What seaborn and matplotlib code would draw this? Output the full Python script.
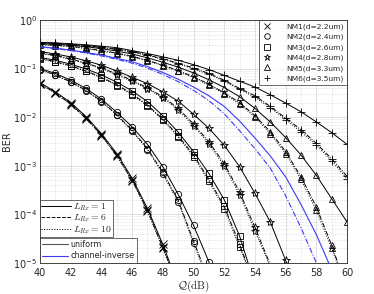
import matplotlib
matplotlib.use("Agg")
import matplotlib.pyplot as plt
import seaborn as sns
import numpy as np
from matplotlib.lines import Line2D

# BER values, stored as log10(BER) at Q = 40, 41, 42, ... dB
# each curve ends where it leaves the plot at BER = 1e-5 (the *_end value, in dB)
nm1_l1 = [-1.29, -1.48, -1.70, -1.99, -2.34, -2.75, -3.26, -3.88, -4.62]
nm1_l6 = [-1.31, -1.50, -1.73, -2.02, -2.37, -2.79, -3.30, -3.92, -4.68]
nm1_l10 = [-1.32, -1.51, -1.74, -2.03, -2.38, -2.80, -3.31, -3.94, -4.70]
nm1_end = [48.45, 48.40, 48.38]

nm2_l1 = [-1.00, -1.10, -1.24, -1.41, -1.63, -1.90, -2.20, -2.56, -3.02, -3.59, -4.23, -4.98]
nm2_l6 = [-1.02, -1.13, -1.27, -1.45, -1.67, -1.95, -2.27, -2.65, -3.14, -3.71, -4.55]
nm2_l10 = [-1.03, -1.14, -1.28, -1.46, -1.68, -1.96, -2.29, -2.67, -3.17, -3.75, -4.60]
nm2_end = [51.03, 50.55, 50.50]

nm3_l1 = [-0.77, -0.83, -0.91, -1.01, -1.13, -1.28, -1.46, -1.68, -1.97, -2.31, -2.71, -3.16, -3.70, -4.45]
nm3_l6 = [-0.79, -0.86, -0.94, -1.05, -1.18, -1.33, -1.52, -1.75, -2.04, -2.38, -2.78, -3.28, -3.84, -4.62]
nm3_l10 = [-0.80, -0.87, -0.95, -1.06, -1.19, -1.35, -1.54, -1.77, -2.06, -2.41, -2.82, -3.32, -3.89, -4.68]
nm3_end = [53.55, 53.45, 53.40]

nm4_l1 = [-0.65, -0.70, -0.76, -0.84, -0.93, -1.05, -1.18, -1.31, -1.48, -1.67, -1.94, -2.23, -2.58, -3.02,
          -3.57, -4.16, -4.95]
nm4_l6 = [-0.68, -0.73, -0.80, -0.89, -0.99, -1.11, -1.24, -1.40, -1.58, -1.82, -2.14, -2.51, -2.96, -3.54,
          -4.27]
nm4_l10 = [-0.69, -0.74, -0.81, -0.90, -1.00, -1.13, -1.26, -1.42, -1.60, -1.85, -2.18, -2.55, -3.01, -3.60,
           -4.35]
nm4_end = [56.05, 54.95, 54.90]

nm5_l1 = [-0.49, -0.50, -0.52, -0.55, -0.59, -0.64, -0.70, -0.78, -0.87, -0.97, -1.09, -1.23, -1.39, -1.58,
          -1.82, -2.10, -2.42, -2.78, -3.20, -3.68, -4.16]
nm5_l6 = [-0.50, -0.52, -0.54, -0.58, -0.63, -0.68, -0.75, -0.83, -0.93, -1.04, -1.17, -1.32, -1.50, -1.70,
          -1.97, -2.30, -2.71, -3.23, -3.85, -4.64]
nm5_l10 = [-0.51, -0.53, -0.55, -0.59, -0.64, -0.69, -0.76, -0.84, -0.94, -1.06, -1.19, -1.34, -1.52, -1.73,
           -2.00, -2.34, -2.75, -3.28, -3.92, -4.70]
nm5_end = [None, 59.40, 59.35]

nm6_l1 = [-0.46, -0.47, -0.49, -0.51, -0.54, -0.57, -0.63, -0.69, -0.76, -0.83, -0.92, -1.02, -1.14, -1.26,
          -1.38, -1.54, -1.71, -1.89, -2.10, -2.32, -2.56]
nm6_l6 = [-0.47, -0.48, -0.50, -0.53, -0.56, -0.60, -0.65, -0.72, -0.80, -0.89, -0.99, -1.10, -1.24, -1.41,
          -1.56, -1.78, -2.02, -2.26, -2.54, -2.86, -3.22]
nm6_l10 = [-0.48, -0.49, -0.51, -0.54, -0.57, -0.61, -0.66, -0.73, -0.81, -0.90, -1.01, -1.12, -1.26, -1.43,
           -1.59, -1.81, -2.05, -2.30, -2.58, -2.90, -3.27]
nm6_end = [None, None, None]

# channel-inverse (blue, no markers)
inv_l1 = [-0.55, -0.58, -0.62, -0.67, -0.72, -0.79, -0.86, -0.96, -1.08, -1.22, -1.38, -1.56, -1.78, -2.08,
          -2.43, -2.80, -3.23, -3.80, -4.42]
inv_l6 = [-0.56, -0.59, -0.63, -0.68, -0.74, -0.81, -0.89, -0.99, -1.12, -1.27, -1.45, -1.66, -1.93, -2.28,
          -2.65, -3.05, -3.62, -4.28]
inv_end = [58.80, 58.00]

nm_labels = ['NM1(d=2.2um)', 'NM2(d=2.4um)', 'NM3(d=2.6um)',
             'NM4(d=2.8um)', 'NM5(d=3.3um)', 'NM6(d=3.5um)']
nm_markers = ['x', 'o', 's', '*', '^', '+']
lrx_labels = [r'$L_{Rx}=1$', r'$L_{Rx}=6$', r'$L_{Rx}=10$']
q_ticks = list(range(40, 61, 2))

sns.set_theme(style="whitegrid")
plt.rcParams['font.family'] = ['DejaVu Sans']
plt.rcParams['mathtext.fontset'] = 'cm'

fig = plt.figure(figsize=(3.74, 2.94), dpi=100)
ax = fig.add_axes([0.107, 0.106, 0.821, 0.826])
ax.set_facecolor('white')

styles = ['-', (0, (5, 1.5, 1, 1.5)), ':']


def curve(vals, end):
    q = list(range(40, 40 + len(vals)))
    y = list(vals)
    if end is not None:
        q.append(end)
        y.append(-5.0)
    return np.array(q, dtype=float), 10 ** np.array(y)


nm_sets = [
    (nm1_l1, nm1_l6, nm1_l10, nm1_end),
    (nm2_l1, nm2_l6, nm2_l10, nm2_end),
    (nm3_l1, nm3_l6, nm3_l10, nm3_end),
    (nm4_l1, nm4_l6, nm4_l10, nm4_end),
    (nm5_l1, nm5_l6, nm5_l10, nm5_end),
    (nm6_l1, nm6_l6, nm6_l10, nm6_end),
]

for i, (a, b, c, ends) in enumerate(nm_sets):
    for j, vals in enumerate([a, b, c]):
        q, ber = curve(vals, ends[j])
        ms = 6 if nm_markers[i] in ('*', '+', 'x') else 4.5
        sns.lineplot(x=q, y=ber, ax=ax, color='black', linestyle=styles[j], linewidth=0.7,
                     marker=nm_markers[i], markersize=ms, markevery=list(range(len(vals))),
                     mfc='none', mec='black', markeredgewidth=0.6, sort=False, estimator=None)

for j, vals in enumerate([inv_l1, inv_l6]):
    q, ber = curve(vals, inv_end[j])
    sns.lineplot(x=q, y=ber, ax=ax, color='#3a3af5', linestyle=styles[j], linewidth=0.8,
                 sort=False, estimator=None)

ax.set_yscale('log')
ax.set_xlim(40, 60)
ax.set_ylim(1e-5, 1)
ax.set_xticks(q_ticks)
ax.set_xticks(range(40, 61), minor=True)
ax.grid(True, which='major', color='#dcdcdc', linewidth=0.6, linestyle='-')
ax.grid(True, which='minor', color='#d0d0d0', linewidth=0.5, linestyle=':')
ax.tick_params(axis='both', which='both', direction='in', labelsize=7, colors='#262626',
               length=2, width=0.5, pad=2)
ax.tick_params(axis='x', which='major', pad=4)
ax.tick_params(axis='both', which='minor', length=1.2)
for s in ax.spines.values():
    s.set_color('#262626')
    s.set_linewidth(0.6)

ax.set_xlabel(r'$\mathcal{Q}(\mathrm{dB})$', fontsize=8, labelpad=0)
ax.set_ylabel('BER', fontsize=7, labelpad=1, color='#262626')

# legend: noise models (markers only)
nm_handles = [Line2D([], [], ls='none', marker=m, color='black', mfc='none',
                     markersize=5 if m in ('*', '+', 'x') else 4, markeredgewidth=0.6)
              for m in nm_markers]
leg1 = ax.legend(nm_handles, nm_labels, loc='upper right', bbox_to_anchor=(1, 1),
                 borderaxespad=0, fontsize=5.4, frameon=True, fancybox=False,
                 labelspacing=0.48, handlelength=1.2, handletextpad=1.9, borderpad=0.45)
leg1.get_frame().set_edgecolor('#262626')
leg1.get_frame().set_linewidth(0.6)
ax.add_artist(leg1)

# legend: receiver count (line styles)
lrx_handles = [Line2D([], [], color='black', lw=0.7, ls=s) for s in ['-', '--', ':']]
leg2 = ax.legend(lrx_handles, lrx_labels, loc='lower left', bbox_to_anchor=(0, 0.107),
                 borderaxespad=0, fontsize=7, frameon=True, fancybox=False,
                 labelspacing=0.0, handlelength=3.1, handletextpad=0.2, borderpad=0.1)
leg2.get_frame().set_edgecolor('#262626')
leg2.get_frame().set_linewidth(0.6)
ax.add_artist(leg2)

# legend: power allocation
pa_handles = [Line2D([], [], color='#555555', lw=0.8), Line2D([], [], color='#3a3af5', lw=0.8)]
leg3 = ax.legend(pa_handles, ['uniform', 'channel-inverse'], loc='lower left', bbox_to_anchor=(0, 0),
                 borderaxespad=0, fontsize=5.8, frameon=True, fancybox=False,
                 labelspacing=0.3, handlelength=3.2, handletextpad=0.3, borderpad=0.3)
leg3.get_frame().set_edgecolor('#262626')
leg3.get_frame().set_linewidth(0.6)

fig.savefig('out.png', dpi=100, facecolor='white')
